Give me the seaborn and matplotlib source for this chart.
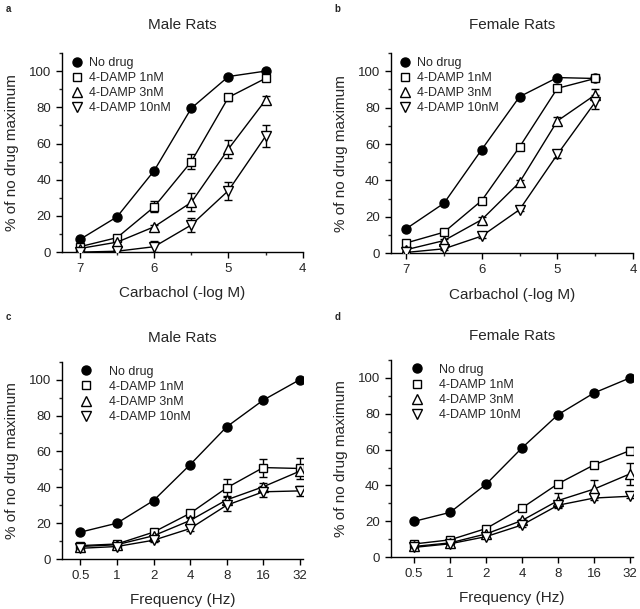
import numpy as np
import pandas as pd
import matplotlib
matplotlib.use("Agg")
import matplotlib.pyplot as plt
from matplotlib.lines import Line2D
from matplotlib.ticker import MultipleLocator
import seaborn as sns

# Data
series_names = ["No drug", "4-DAMP 1nM", "4-DAMP 3nM", "4-DAMP 10nM"]

carbachol = [7, 6.5, 6, 5.5, 5, 4.5]
freq_labels = ["0.5", "1", "2", "4", "8", "16", "32"]

# panel a - male, carbachol
a_nodrug = [7, 19.5, 45, 79.5, 97, 100]
a_1nm = [3, 8, 25, 50, 85.5, 96]
a_3nm = [2, 5.5, 14, 27.5, 57, 84]
a_10nm = [0, 0.5, 3, 15, 34, 64]
a_1nm_err = [0.5, 1, 3, 4, 2, 1]
a_3nm_err = [0.5, 1, 1, 5, 5, 2]
a_10nm_err = [0, 0.5, 3, 4, 5, 6]

# panel b - female, carbachol
b_nodrug = [13.5, 27.5, 57, 86, 96.5, 96]
b_1nm = [5.7, 11.6, 29, 58.4, 90.6, 96]
b_3nm = [2, 7, 18.5, 39, 72.7, 87]
b_10nm = [0.5, 2.5, 9.5, 24, 54.3, 83]
b_1nm_err = [0.5, 0.5, 1, 1, 1, 1]
b_3nm_err = [0.5, 1, 1.5, 1.5, 2, 3]
b_10nm_err = [0, 0.5, 1, 1, 2, 4]

# panel c - male, frequency
c_nodrug = [15, 20, 32.6, 52.6, 73.7, 88.6, 100]
c_1nm = [7.5, 8.4, 15, 25.5, 39.7, 51, 50.5]
c_3nm = [7, 8, 13, 21.5, 33, 40.3, 49]
c_10nm = [6, 7, 10.5, 17, 30, 37.5, 38]
c_1nm_err = [1, 1, 1, 1.5, 5, 5, 6]
c_3nm_err = [0.5, 0.5, 1, 1.5, 2, 2, 2]
c_10nm_err = [0.5, 0.5, 1, 1.5, 3, 3, 3]

# panel d - female, frequency
d_nodrug = [20, 25, 40.7, 61, 79.5, 91.6, 100]
d_1nm = [7.4, 9.7, 16, 27.5, 41, 51.5, 59.5]
d_3nm = [6, 8, 13, 20.5, 31.6, 38, 46.5]
d_10nm = [5.5, 7.5, 11.5, 18, 29, 33, 34]
d_1nm_err = [0.5, 0.5, 1, 1, 1, 1, 2]
d_3nm_err = [0.5, 0.5, 1, 1, 4, 5, 6]
d_10nm_err = [0.5, 0.5, 1, 1, 1, 1, 1]

sns.set_style("ticks")
plt.rcParams["font.family"] = ["Liberation Sans", "DejaVu Sans"]

markers = ["o", "s", "^", "v"]
faces = ["black", "white", "white", "white"]
sizes = [6.5, 6, 7, 7]

fig = plt.figure(figsize=(6.4, 6.09), dpi=100)


def draw_panel(rect, x, ys, errs, title, xlabel, letter, xlim, leg_anchor,
               textpad, title_pad, letter_y):
    ax = fig.add_axes(rect)
    for i, (y, e) in enumerate(zip(ys, errs)):
        if e is not None:
            ax.errorbar(x, y, yerr=e, fmt="none", ecolor="black",
                        elinewidth=1, capsize=3, capthick=1, zorder=2)
        sns.lineplot(x=x, y=y, ax=ax, color="black", linewidth=1,
                     marker=markers[i], markersize=sizes[i],
                     markerfacecolor=faces[i], markeredgecolor="black",
                     markeredgewidth=1, zorder=3 + i, sort=False)
    ax.set_xlim(*xlim)
    ax.set_ylim(0, 110)
    ax.set_yticks([0, 20, 40, 60, 80, 100])
    ax.yaxis.set_minor_locator(MultipleLocator(10))
    ax.tick_params(axis="both", which="major", labelsize=9.5, length=4,
                   width=1, direction="out", color="black", pad=4)
    ax.tick_params(axis="both", which="minor", length=2.5, width=1)
    for s in ["left", "bottom"]:
        ax.spines[s].set_linewidth(1)
        ax.spines[s].set_color("black")
    sns.despine(ax=ax)
    ax.set_xlabel(xlabel, fontsize=11, labelpad=8)
    ax.set_ylabel("% of no drug maximum", fontsize=11, labelpad=7)
    ax.set_title(title, fontsize=11, pad=title_pad)
    handles = [Line2D([], [], linestyle="none", marker=markers[i],
                      markersize=sizes[i], markerfacecolor=faces[i],
                      markeredgecolor="black", markeredgewidth=1)
               for i in range(4)]
    ax.legend(handles, series_names, loc="upper left",
              bbox_to_anchor=leg_anchor, frameon=False, fontsize=9,
              handlelength=1, handletextpad=textpad, labelspacing=0.25,
              borderpad=0, borderaxespad=0)
    fig.text(rect[0] - 0.088, letter_y, letter,
             fontsize=7, fontweight="bold", va="top")
    return ax


# top row: carbachol concentration, reversed axis
ax_a = draw_panel([0.097, 0.586, 0.376, 0.327], carbachol,
                  [a_nodrug, a_1nm, a_3nm, a_10nm],
                  [None, a_1nm_err, a_3nm_err, a_10nm_err],
                  "Male Rats", "Carbachol (-log M)", "a",
                  (7.24, 4), (0.035, 0.98), 0.5, 17, 0.993)
ax_a.set_xticks([7, 6, 5, 4])
ax_a.xaxis.set_minor_locator(MultipleLocator(0.5))

ax_b = draw_panel([0.611, 0.584, 0.378, 0.329], carbachol,
                  [b_nodrug, b_1nm, b_3nm, b_10nm],
                  [None, b_1nm_err, b_3nm_err, b_10nm_err],
                  "Female Rats", "Carbachol (-log M)", "b",
                  (7.2, 4), (0.03, 0.98), 0.5, 17, 0.993)
ax_b.set_xticks([7, 6, 5, 4])
ax_b.xaxis.set_minor_locator(MultipleLocator(0.5))

# bottom row: stimulation frequency, evenly spaced
pos = np.arange(len(freq_labels))
ax_c = draw_panel([0.097, 0.082, 0.376, 0.324], pos,
                  [c_nodrug, c_1nm, c_3nm, c_10nm],
                  [None, c_1nm_err, c_3nm_err, c_10nm_err],
                  "Male Rats", "Frequency (Hz)", "c",
                  (-0.5, 6.08), (0.075, 0.98), 1.3, 14, 0.488)
ax_c.set_xticks(pos)
ax_c.set_xticklabels(freq_labels)

ax_d = draw_panel([0.611, 0.085, 0.378, 0.324], pos,
                  [d_nodrug, d_1nm, d_3nm, d_10nm],
                  [None, d_1nm_err, d_3nm_err, d_10nm_err],
                  "Female Rats", "Frequency (Hz)", "d",
                  (-0.64, 6.08), (0.08, 0.98), 1.3, 14, 0.488)
ax_d.set_xticks(pos)
ax_d.set_xticklabels(freq_labels)

fig.savefig("out.png", dpi=100, facecolor="white")
